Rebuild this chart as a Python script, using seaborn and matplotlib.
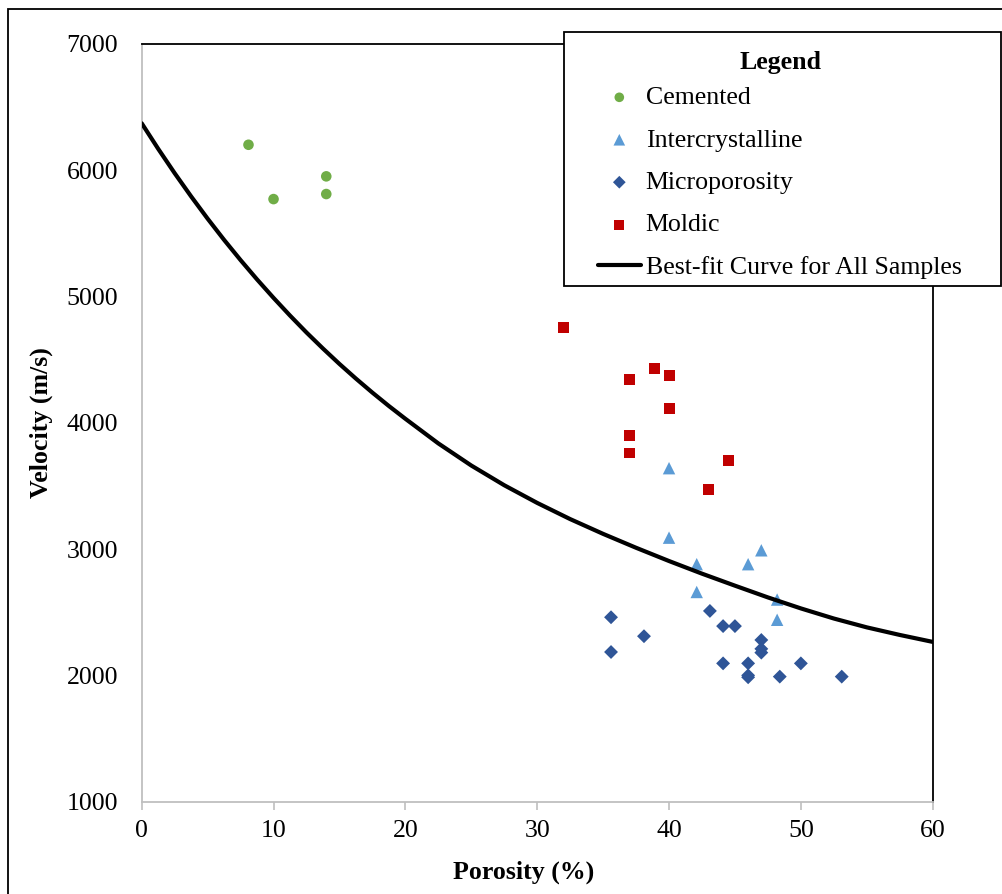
import seaborn as sns
import matplotlib.pyplot as plt
from matplotlib.patches import Rectangle

# data
cemented_por = [8.1, 10.0, 14.0, 14.0]
cemented_vel = [6200, 5770, 5950, 5810]

inter_por = [40.0, 40.0, 42.1, 42.1, 46.0, 47.0, 48.2, 48.2]
inter_vel = [3640, 3090, 2880, 2660, 2880, 2990, 2600, 2440]

micro_por = [35.6, 35.6, 38.1, 43.1, 44.1, 45.0, 47.0, 47.0, 47.0, 44.1, 46.0, 46.0, 46.0, 48.4, 50.0, 53.1]
micro_vel = [2460, 2185, 2310, 2510, 2390, 2390, 2280, 2210, 2180, 2095, 2095, 2000, 1985, 1990, 2095, 1990]

moldic_por = [32.0, 37.0, 38.9, 40.0, 40.0, 37.0, 37.0, 44.5, 43.0]
moldic_vel = [4755, 4345, 4430, 4370, 4115, 3900, 3760, 3700, 3470]

# best-fit curve (denser where it bends most)
curve_por = [0, 1.25, 2.5, 3.75, 5, 6.25, 7.5, 8.75, 10, 11.25, 12.5, 13.75, 15,
             16.25, 17.5, 18.75, 20, 22.5, 25, 27.5, 30, 32.5, 35, 37.5, 40,
             42.5, 45, 47.5, 50, 52.5, 55, 57.5, 60]
curve_vel = [6370, 6168, 5975, 5791, 5615, 5447, 5287, 5134, 4988, 4848, 4714, 4587, 4465,
             4349, 4238, 4132, 4031, 3836, 3661, 3505, 3365, 3237, 3120, 3010, 2905,
             2805, 2710, 2617, 2530, 2450, 2380, 2320, 2265]

W, H = 1003, 894
sns.set_style("white")
plt.rcParams['font.family'] = ['Liberation Serif', 'DejaVu Serif']
plt.rcParams['text.color'] = 'black'
plt.rcParams['xtick.color'] = 'black'
plt.rcParams['ytick.color'] = 'black'
plt.rcParams['axes.labelcolor'] = 'black'
FS = 18.6

fig = plt.figure(figsize=(W / 100, H / 100), dpi=100)
ax = fig.add_axes([141.7 / W, 1 - 801.7 / H, 791 / W, 758 / H])

sns.scatterplot(x=cemented_por, y=cemented_vel, marker='o', color='#70ad47', s=58,
                edgecolor='none', label='Cemented', ax=ax, zorder=3)
sns.scatterplot(x=inter_por, y=inter_vel, marker='^', color='#5b9bd5', s=80,
                edgecolor='none', label='Intercrystalline', ax=ax, zorder=3)
sns.scatterplot(x=micro_por, y=micro_vel, marker='D', color='#2f5597', s=50,
                edgecolor='none', label='Microporosity', ax=ax, zorder=3)
sns.scatterplot(x=moldic_por, y=moldic_vel, marker='s', color='#c00000', s=62,
                edgecolor='none', label='Moldic', ax=ax, zorder=3)
sns.lineplot(x=curve_por, y=curve_vel, color='black', lw=3,
             label='Best-fit Curve for All Samples', ax=ax, zorder=4)

ax.set_xlim(0, 60)
ax.set_ylim(1000, 7000)
ax.set_xticks(range(0, 61, 10))
ax.set_yticks(range(1000, 7001, 1000))
ax.tick_params(axis='x', direction='out', length=5.5, width=1.2, color='#bfbfbf',
               labelcolor='black', labelsize=FS, pad=8, bottom=True)
ax.tick_params(axis='y', length=0, labelsize=FS, labelcolor='black', pad=17)

for side in ['left', 'bottom']:
    ax.spines[side].set_color('#bfbfbf')
    ax.spines[side].set_linewidth(1.3)
for side in ['top', 'right']:
    ax.spines[side].set_color('black')
    ax.spines[side].set_linewidth(1.3)

ax.set_xlabel('Porosity (%)', fontsize=FS, fontweight='bold', color='black')
ax.set_ylabel('Velocity (m/s)', fontsize=FS, fontweight='bold', color='black')
ax.xaxis.set_label_coords((524 - 141.7) / 791, -0.078)
ax.yaxis.set_label_coords(-0.112, 0.5)

# legend: white box on top of the axes, then title and entries
handles, labels = ax.get_legend_handles_labels()
ax.get_legend().remove()
box = Rectangle((564 / W, 1 - 286 / H), (1001 - 564) / W, (286 - 32) / H,
                transform=fig.transFigure, facecolor='white', edgecolor='black',
                lw=1.3, zorder=3)
fig.patches.append(box)
fig.text(781 / W, 1 - 62 / H, 'Legend', fontsize=FS, fontweight='bold',
         ha='center', va='center', color='black', zorder=4)
leg = fig.legend(handles, labels, loc='upper left', bbox_to_anchor=(598 / W, 1 - 86 / H),
                 frameon=False, fontsize=FS, borderpad=0, borderaxespad=0,
                 handlelength=1.65, handletextpad=0.2, labelspacing=0.75)
leg.set_zorder(4)
for t in leg.get_texts():
    t.set_color('black')
for h, sz in zip(leg.legend_handles[:4], [48, 70, 42, 50]):
    h.set_sizes([sz])

# outer frame of the picture
frame = Rectangle((8 / W, -0.05), 1.1, 1.05 - 9 / H, transform=fig.transFigure,
                  facecolor='none', edgecolor='black', lw=1.3, zorder=5)
fig.patches.append(frame)

fig.savefig('out.png', dpi=100)
